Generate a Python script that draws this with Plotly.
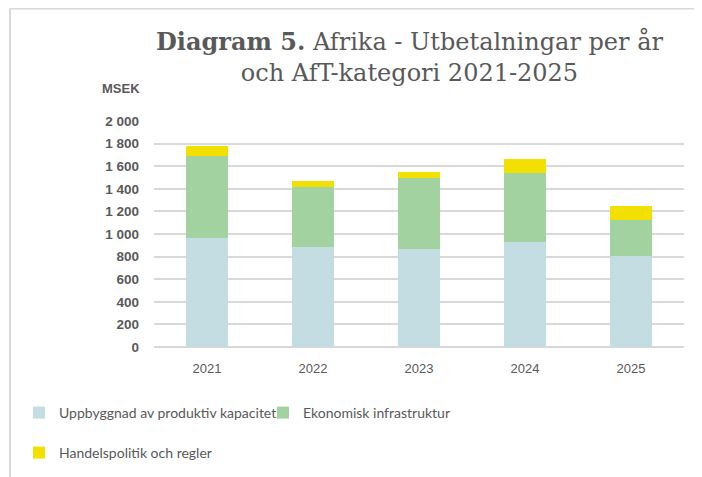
import plotly.graph_objects as go

years = ["2021", "2022", "2023", "2024", "2025"]
produktiv = [965, 885, 867, 929, 805]
infrastruktur = [725, 528, 631, 611, 319]
handelspolitik = [89, 56, 51, 124, 124]
series_names = ["Uppbyggnad av produktiv kapacitet", "Ekonomisk infrastruktur", "Handelspolitik och regler"]
colors = ["#c4dde2", "#a1d29f", "#f2e000"]
tick_vals = [0, 200, 400, 600, 800, 1000, 1200, 1400, 1600, 1800, 2000]

# page body has an 8px margin; figure sized so that it fills the window exactly
OFF = 8
W, H = 702 - OFF, 477 - OFF
L, R, T, B = 146, 18, 113, 130
pw, ph = W - L - R, H - T - B

def px(x):  # window pixel -> paper x
    return (x - OFF - L) / pw

def py(y):  # window pixel -> paper y
    return (H - B - (y - OFF)) / ph

fig = go.Figure()
for name, vals, col, lg in zip(series_names, [produktiv, infrastruktur, handelspolitik], colors,
                               ["legend", "legend2", "legend3"]):
    fig.add_trace(go.Bar(x=years, y=vals, name=name, marker=dict(color=col, line=dict(width=0)),
                         legend=lg))

TXT = "#595959"
legfont = dict(family="Lato, Roboto, sans-serif", size=14, color=TXT)
fig.update_layout(
    width=W, height=H,
    margin=dict(l=L, r=R, t=T, b=B, autoexpand=False),
    barmode="stack", bargap=0.595,
    plot_bgcolor="white", paper_bgcolor="white",
    separators=", ",
    showlegend=True,
    legend=dict(x=px(19), y=py(413), xanchor="left", yanchor="middle", orientation="h",
                font=legfont, bgcolor="rgba(0,0,0,0)"),
    legend2=dict(x=px(263), y=py(413), xanchor="left", yanchor="middle", orientation="h",
                 font=legfont, bgcolor="rgba(0,0,0,0)"),
    legend3=dict(x=px(19), y=py(453), xanchor="left", yanchor="middle", orientation="h",
                 font=legfont, bgcolor="rgba(0,0,0,0)"),
    xaxis=dict(showgrid=False, showline=False, zeroline=False, ticks="",
               tickfont=dict(family="Liberation Sans, Arial, sans-serif", size=13, color=TXT),
               ticklabelstandoff=12),
    yaxis=dict(range=[0, 2000], tickvals=tick_vals, tickformat=",d",
               showgrid=True, gridcolor="#d9d9d9", gridwidth=1.5,
               zeroline=True, zerolinecolor="#d9d9d9", zerolinewidth=1.5,
               showline=False, ticks="",
               tickfont=dict(family="Liberation Sans, Arial, sans-serif", size=13.5, color=TXT,
                             weight="bold"),
               ticklabelstandoff=14),
    annotations=[
        dict(text="<b>Diagram 5.</b> Afrika - Utbetalningar per år<br>och AfT-kategori 2021-2025",
             x=px(409), y=py(57), xref="paper", yref="paper", showarrow=False,
             xanchor="center", yanchor="middle",
             font=dict(family="DejaVu Serif, serif", size=24, color=TXT)),
        dict(text="<b>MSEK</b>", x=px(121), y=py(88), xref="paper", yref="paper",
             showarrow=False, xanchor="center", yanchor="middle",
             font=dict(family="Liberation Sans, Arial, sans-serif", size=13, color=TXT)),
    ],
    shapes=[
        dict(type="line", xref="paper", yref="paper", x0=px(10), x1=px(710), y0=py(8.5), y1=py(8.5),
             line=dict(color="#d9d9d9", width=2)),
        dict(type="line", xref="paper", yref="paper", x0=px(10), x1=px(10), y0=py(8.5), y1=py(490),
             line=dict(color="#d9d9d9", width=2)),
    ],
)

fig.write_html("out.html")
